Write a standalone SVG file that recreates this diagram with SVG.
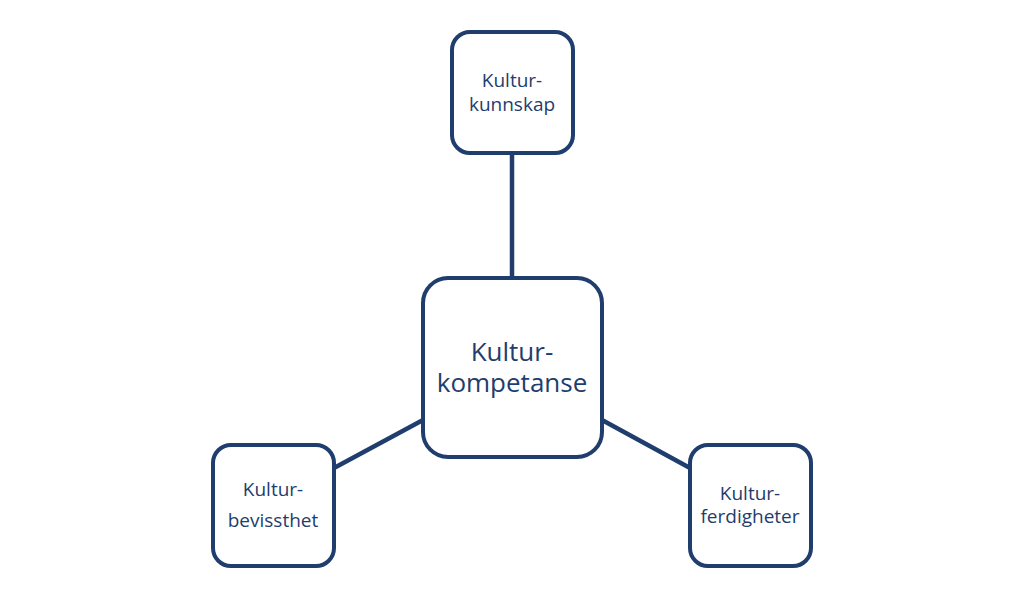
<svg xmlns="http://www.w3.org/2000/svg" width="1024" height="597" viewBox="0 0 1024 597">
<style>
.b{fill:#fff;stroke:#1f3d6d;stroke-width:4}
.c{stroke:#1f3d6d;stroke-width:4.5;fill:none}
text{font-family:"Open Sans","Liberation Sans",sans-serif;fill:#1f3d6d;text-anchor:middle}
.s{font-size:19px}.l{font-size:26px}
</style>
<rect width="1024" height="597" fill="#fff"/>
<g id="connectors">
<line class="c" x1="512" y1="153" x2="512" y2="278"/>
<line class="c" x1="334" y1="468" x2="423" y2="420"/>
<line class="c" x1="602" y1="420" x2="690" y2="468"/>
</g>
<g id="top"><rect class="b" x="452" y="32" width="121" height="121" rx="18"/>
<text class="s" x="512" y="87">Kultur-</text><text class="s" x="512" y="111">kunnskap</text></g>
<g id="center"><rect class="b" x="423" y="278" width="179" height="179" rx="25"/>
<text class="l" x="512" y="361">Kultur-</text><text class="l" x="512" y="392">kompetanse</text></g>
<g id="left"><rect class="b" x="213" y="445" width="121" height="121" rx="18"/>
<text class="s" x="273" y="496">Kultur-</text><text class="s" x="273" y="527">bevissthet</text></g>
<g id="right"><rect class="b" x="690" y="445" width="121" height="121" rx="18"/>
<text class="s" x="750" y="500">Kultur-</text><text class="s" x="750" y="523">ferdigheter</text></g>
</svg>
